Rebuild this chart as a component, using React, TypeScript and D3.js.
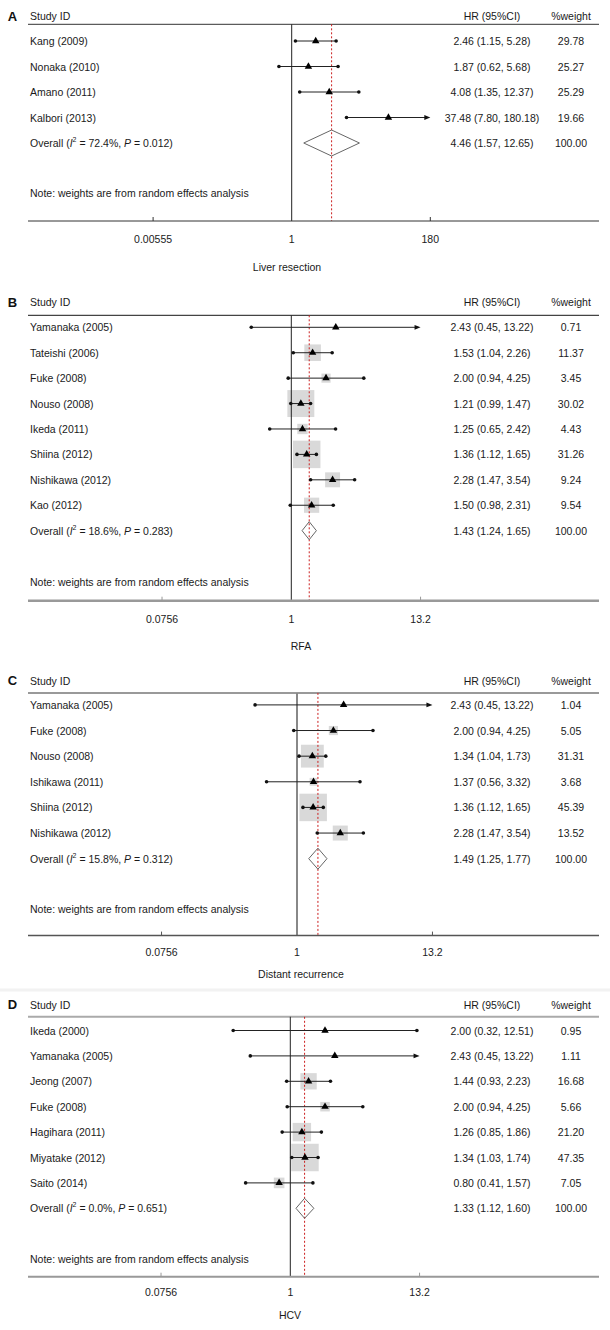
import React from "react";
import * as d3 from "d3";

// ---------- DATA ----------
const aStudies = ["Kang (2009)", "Nonaka (2010)", "Amano (2011)", "Kalbori (2013)"];
const aHR = [2.46, 1.87, 4.08, 37.48];
const aLower = [1.15, 0.62, 1.35, 7.8];
const aUpper = [5.28, 5.68, 12.37, 180.18];
const aWeight = [29.78, 25.27, 25.29, 19.66];
const aOverall = [4.46, 1.57, 12.65];
const aHet = ["72.4%", "0.012"];

const bStudies = ["Yamanaka (2005)", "Tateishi (2006)", "Fuke (2008)", "Nouso (2008)", "Ikeda (2011)", "Shiina (2012)", "Nishikawa (2012)", "Kao (2012)"];
const bHR = [2.43, 1.53, 2.0, 1.21, 1.25, 1.36, 2.28, 1.5];
const bLower = [0.45, 1.04, 0.94, 0.99, 0.65, 1.12, 1.47, 0.98];
const bUpper = [13.22, 2.26, 4.25, 1.47, 2.42, 1.65, 3.54, 2.31];
const bWeight = [0.71, 11.37, 3.45, 30.02, 4.43, 31.26, 9.24, 9.54];
const bOverall = [1.43, 1.24, 1.65];
const bHet = ["18.6%", "0.283"];

const cStudies = ["Yamanaka (2005)", "Fuke (2008)", "Nouso (2008)", "Ishikawa (2011)", "Shiina (2012)", "Nishikawa (2012)"];
const cHR = [2.43, 2.0, 1.34, 1.37, 1.36, 2.28];
const cLower = [0.45, 0.94, 1.04, 0.56, 1.12, 1.47];
const cUpper = [13.22, 4.25, 1.73, 3.32, 1.65, 3.54];
const cWeight = [1.04, 5.05, 31.31, 3.68, 45.39, 13.52];
const cOverall = [1.49, 1.25, 1.77];
const cHet = ["15.8%", "0.312"];

const dStudies = ["Ikeda (2000)", "Yamanaka (2005)", "Jeong (2007)", "Fuke (2008)", "Hagihara (2011)", "Miyatake (2012)", "Saito (2014)"];
const dHR = [2.0, 2.43, 1.44, 2.0, 1.26, 1.34, 0.8];
const dLower = [0.32, 0.45, 0.93, 0.94, 0.85, 1.03, 0.41];
const dUpper = [12.51, 13.22, 2.23, 4.25, 1.86, 1.74, 1.57];
const dWeight = [0.95, 1.11, 16.68, 5.66, 21.2, 47.35, 7.05];
const dOverall = [1.33, 1.12, 1.6];
const dHet = ["0.0%", "0.651"];

const axisMaxA = 180;
const axisMaxBCD = 13.2;
const tickLabelsA = ["0.00555", "1", "180"];
const tickLabelsBCD = ["0.0756", "1", "13.2"];
const axisTitles = ["Liver resection", "RFA", "Distant recurrence", "HCV"];
const panelLetters = ["A", "B", "C", "D"];
const noteText = "Note: weights are from random effects analysis";

// ---------- LAYOUT ----------
const panels = [
  {
    letter: panelLetters[0], studies: aStudies, hr: aHR, lo: aLower, hi: aUpper, w: aWeight, overall: aOverall, het: aHet,
    axisMax: axisMaxA, ticks: tickLabelsA, title: axisTitles[0],
    L: { headerY: 16, lineY: 24.3, firstRow: 41, step: 25.5, noteY: 193, axisY: 221, tickY: 239, titleY: 267, titleX: 287,
      x1: 291.7, pxPerLn: 26.69, diamondH: 26, boxes: false,
      headStroke: "#333", headW: 1, vStroke: "#222", vW: 1, axStroke: "#333", axW: 1 },
  },
  {
    letter: panelLetters[1], studies: bStudies, hr: bHR, lo: bLower, hi: bUpper, w: bWeight, overall: bOverall, het: bHet,
    axisMax: axisMaxBCD, ticks: tickLabelsBCD, title: axisTitles[1],
    L: { headerY: 302, lineY: 315.3, firstRow: 327.3, step: 25.42, noteY: 582.3, axisY: 600.7, tickY: 618.7, titleY: 646, titleX: 301,
      x1: 291.3, pxPerLn: 50.1, diamondH: 18, boxes: true,
      headStroke: "#444", headW: 1.2, vStroke: "#222", vW: 1, axStroke: "#999", axW: 2.5 },
  },
  {
    letter: panelLetters[2], studies: cStudies, hr: cHR, lo: cLower, hi: cUpper, w: cWeight, overall: cOverall, het: cHet,
    axisMax: axisMaxBCD, ticks: tickLabelsBCD, title: axisTitles[2],
    L: { headerY: 680.5, lineY: 692.9, firstRow: 704.9, step: 25.63, noteY: 909, axisY: 935.6, tickY: 952, titleY: 973.5, titleX: 301,
      x1: 297, pxPerLn: 52.5, diamondH: 21, boxes: true,
      headStroke: "#999", headW: 2, vStroke: "#888", vW: 2, axStroke: "#555", axW: 1.5 },
  },
  {
    letter: panelLetters[3], studies: dStudies, hr: dHR, lo: dLower, hi: dUpper, w: dWeight, overall: dOverall, het: dHet,
    axisMax: axisMaxBCD, ticks: tickLabelsBCD, title: axisTitles[3],
    L: { headerY: 1004.5, lineY: 1016.8, firstRow: 1030.5, step: 25.4, noteY: 1259, axisY: 1276.7, tickY: 1292, titleY: 1314.7, titleX: 290,
      x1: 290.3, pxPerLn: 50.1, diamondH: 20, boxes: true,
      headStroke: "#aaa", headW: 2, vStroke: "#222", vW: 1, axStroke: "#999", axW: 2 },
  },
];

const FONT = "'Liberation Sans', Arial, sans-serif";
const TXT = "#1a1a1a";
const LEFT = 28;
const RIGHT = 599;
const NAME_X = 30;
const HR_X = 492;
const WT_X = 571;
const MAX_BOX = 27.5;

const fmt = (v: number) => v.toFixed(2);

function Panel({ p }: { p: any }) {
  const L = p.L;
  const lnMax = Math.log(p.axisMax);
  const x = d3.scaleLog().domain([1 / p.axisMax, p.axisMax]).range([L.x1 - lnMax * L.pxPerLn, L.x1 + lnMax * L.pxPerLn]);
  const n = p.studies.length;
  const y = (i: number) => L.firstRow + i * L.step;
  const maxW = d3.max(p.w as number[]) as number;
  const boxSize = d3.scaleSqrt().domain([0, maxW]).range([0, MAX_BOX]);
  const tri = d3.symbol().type(d3.symbolTriangle).size(24)();
  const tickVals = [1 / p.axisMax, 1, p.axisMax];
  const oy = y(n);
  const [ohr, olo, ohi] = p.overall;
  const dh = L.diamondH / 2;
  const textProps = { fontFamily: FONT, fontSize: 10.5, fill: TXT, dominantBaseline: "central" as const };

  return (
    <g>
      {/* header */}
      <text x={12.5} y={L.headerY} textAnchor="middle" fontFamily={FONT} fontSize={13} fontWeight="bold" fill="#111" dominantBaseline="central">{p.letter}</text>
      <text x={NAME_X} y={L.headerY} {...textProps}>Study ID</text>
      <text x={HR_X} y={L.headerY} textAnchor="middle" {...textProps}>HR (95%CI)</text>
      <text x={WT_X} y={L.headerY} textAnchor="middle" {...textProps}>%weight</text>
      <line x1={LEFT} x2={RIGHT} y1={L.lineY} y2={L.lineY} stroke={L.headStroke} strokeWidth={L.headW} />

      {/* boxes */}
      {L.boxes && p.studies.map((s: string, i: number) => {
        const sz = boxSize(p.w[i]);
        return <rect key={"b" + i} x={x(p.hr[i]) - sz / 2} y={y(i) - sz / 2} width={sz} height={sz} fill="#d9d9d9" />;
      })}

      {/* null line and overall line */}
      <line x1={x(1)} x2={x(1)} y1={L.lineY} y2={L.axisY} stroke={L.vStroke} strokeWidth={L.vW} />
      <line x1={x(ohr)} x2={x(ohr)} y1={L.lineY} y2={L.axisY} stroke="#cc1f1f" strokeWidth={1} strokeDasharray="2,2" />

      {/* studies */}
      {p.studies.map((s: string, i: number) => {
        const yy = y(i);
        const xl = x(Math.max(p.lo[i], 1 / p.axisMax));
        const over = p.hi[i] > p.axisMax;
        const xr = x(Math.min(p.hi[i], p.axisMax));
        return (
          <g key={"s" + i}>
            <text x={NAME_X} y={yy} {...textProps}>{s}</text>
            <text x={HR_X} y={yy} textAnchor="middle" {...textProps}>{`${fmt(p.hr[i])} (${fmt(p.lo[i])}, ${fmt(p.hi[i])})`}</text>
            <text x={WT_X} y={yy} textAnchor="middle" {...textProps}>{fmt(p.w[i])}</text>
            <line x1={xl} x2={over ? xr - 4 : xr} y1={yy} y2={yy} stroke="#222" strokeWidth={1} />
            <circle cx={xl} cy={yy} r={1.8} fill="#111" />
            {over
              ? <path d={`M${xr},${yy}L${xr - 6},${yy - 2.4}L${xr - 6},${yy + 2.4}Z`} fill="#111" />
              : <circle cx={xr} cy={yy} r={1.8} fill="#111" />}
            <path d={tri} transform={`translate(${x(p.hr[i])},${yy})`} fill="#000" />
          </g>
        );
      })}

      {/* overall */}
      <text x={NAME_X} y={oy} {...textProps}>
        {"Overall ("}
        <tspan fontStyle="italic">I</tspan>
        <tspan fontSize={7} dy={-4}>2</tspan>
        <tspan dy={4}>{` = ${p.het[0]}, `}</tspan>
        <tspan fontStyle="italic">P</tspan>
        {` = ${p.het[1]})`}
      </text>
      <text x={HR_X} y={oy} textAnchor="middle" {...textProps}>{`${fmt(ohr)} (${fmt(olo)}, ${fmt(ohi)})`}</text>
      <text x={WT_X} y={oy} textAnchor="middle" {...textProps}>100.00</text>
      <path d={`M${x(olo)},${oy}L${x(ohr)},${oy - dh}L${x(ohi)},${oy}L${x(ohr)},${oy + dh}Z`} fill="none" stroke="#666" strokeWidth={1} />

      {/* note */}
      <text x={NAME_X} y={L.noteY} {...textProps}>{noteText}</text>

      {/* axis */}
      <line x1={LEFT} x2={RIGHT} y1={L.axisY} y2={L.axisY} stroke={L.axStroke} strokeWidth={L.axW} />
      {tickVals.map((t, i) => (
        <g key={"t" + i}>
          {i !== 1 && <line x1={x(t)} x2={x(t)} y1={L.axisY} y2={L.axisY - 4} stroke={L.axStroke} strokeWidth={1} />}
          <text x={x(t)} y={L.tickY} textAnchor="middle" {...textProps}>{p.ticks[i]}</text>
        </g>
      ))}
      <text x={L.titleX} y={L.titleY} textAnchor="middle" {...textProps}>{p.title}</text>
    </g>
  );
}

export default function App() {
  return (
    <svg width={610} height={1330} style={{ position: "absolute", left: 0, top: 0, background: "#fff" }}>
      <rect x={0} y={0} width={610} height={1330} fill="#fff" />
      <line x1={0} x2={610} y1={990} y2={990} stroke="#f2f2f2" strokeWidth={3} />
      {panels.map((p, i) => <Panel key={i} p={p} />)}
    </svg>
  );
}
